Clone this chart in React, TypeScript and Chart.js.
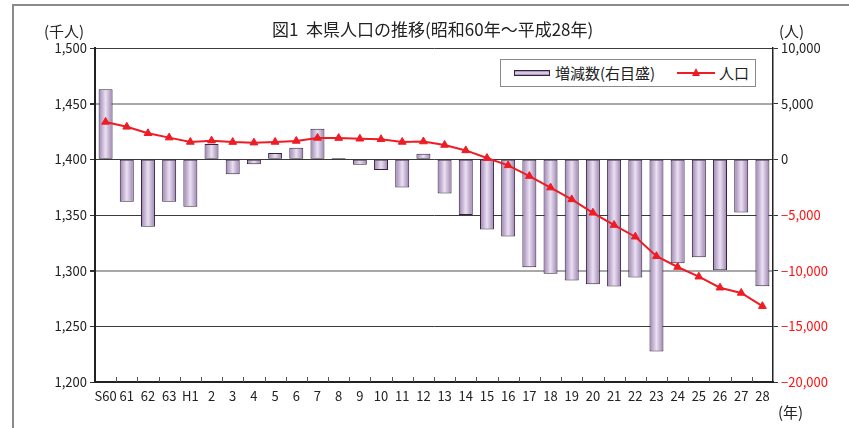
import React, { useEffect, useRef } from "react";
import { Chart, registerables } from "chart.js";

Chart.register(...registerables);

const categories = ["S60", "61", "62", "63", "H1", "2", "3", "4", "5", "6", "7", "8", "9", "10", "11", "12", "13", "14", "15", "16", "17", "18", "19", "20", "21", "22", "23", "24", "25", "26", "27", "28"];

// 増減数 (人, right axis)
const changeValues = [6300, -3800, -6050, -3820, -4270, 1370, -1340, -450, 560, 1050, 2750, 120, -480, -960, -2540, 510, -3070, -4990, -6300, -6920, -9700, -10270, -10890, -11220, -11430, -10620, -17250, -9340, -8800, -9970, -4780, -11400];

// 人口 (千人, left axis)
const populationValues = [1433.6, 1429.2, 1423.4, 1419.5, 1415.6, 1416.8, 1415.5, 1415.0, 1415.6, 1416.5, 1419.2, 1419.1, 1418.5, 1418.0, 1415.6, 1416.0, 1412.9, 1408.0, 1401.2, 1394.6, 1385.0, 1374.6, 1364.0, 1352.0, 1341.0, 1330.5, 1313.0, 1303.3, 1294.6, 1284.7, 1280.0, 1268.1];

const titleText = "図1  本県人口の推移(昭和60年～平成28年)";
const leftUnit = "(千人)";
const rightUnit = "(人)";
const xUnit = "(年)";
const legendBar = "増減数(右目盛)";
const legendLine = "人口";

const FONT = "'Noto Sans CJK JP', 'Noto Sans', sans-serif";
const RED = "#ee1c24";
const BAR_EDGE = "#9c80b2";
const BAR_MID = "#eae1f1";

export default function App() {
  const ref = useRef<HTMLCanvasElement | null>(null);

  useEffect(() => {
    const canvas = ref.current;
    if (!canvas) return;

    const innerTicks = {
      id: "innerTicks",
      afterDatasetsDraw(chart: any) {
        const { ctx, chartArea } = chart;
        const xs = chart.scales.x;
        const n = categories.length;
        const w = (chartArea.right - chartArea.left) / n;
        ctx.save();
        ctx.strokeStyle = "#555";
        ctx.lineWidth = 1;
        ctx.beginPath();
        for (let i = 1; i < n; i++) {
          const x = Math.round(xs.getPixelForValue(i) - w / 2) + 0.5;
          ctx.moveTo(x, chartArea.bottom);
          ctx.lineTo(x, chartArea.bottom - 5);
        }
        ctx.stroke();
        ctx.restore();
      },
    };

    const chart = new Chart(canvas, {
      type: "bar",
      data: {
        labels: categories,
        datasets: [
          {
            type: "line",
            label: legendLine,
            data: populationValues,
            yAxisID: "y",
            borderColor: RED,
            backgroundColor: RED,
            borderWidth: 2,
            pointStyle: "triangle",
            pointRadius: 4.5,
            pointBackgroundColor: RED,
            pointBorderColor: RED,
            pointBorderWidth: 1,
            tension: 0,
            order: 0,
          } as any,
          {
            type: "bar",
            label: legendBar,
            data: changeValues,
            yAxisID: "y1",
            backgroundColor: (c: any) => {
              const chart = c.chart;
              const { ctx, chartArea } = chart;
              if (!chartArea || c.dataIndex === undefined) return "#c9b5d8";
              const x = chart.scales.x.getPixelForValue(c.dataIndex);
              const g = ctx.createLinearGradient(x - 7, 0, x + 7, 0);
              g.addColorStop(0, BAR_EDGE);
              g.addColorStop(0.5, BAR_MID);
              g.addColorStop(1, BAR_EDGE);
              return g;
            },
            borderColor: "#33243c",
            borderWidth: 1,
            borderSkipped: false,
            barPercentage: 0.66,
            categoryPercentage: 1,
            order: 1,
          } as any,
        ],
      },
      options: {
        animation: false,
        responsive: false,
        maintainAspectRatio: false,
        layout: { padding: { top: 48, left: 0, right: 0, bottom: 0 } },
        plugins: {
          legend: { display: false },
          title: { display: false },
          tooltip: { enabled: false },
        },
        scales: {
          x: {
            offset: true,
            grid: { display: true, drawOnChartArea: false, drawTicks: false },
            border: { display: true, color: "#222", width: 2 },
            ticks: {
              autoSkip: false,
              maxRotation: 0,
              minRotation: 0,
              padding: 6,
              color: "#222",
              font: { family: FONT, size: 13 },
            },
            afterFit: (s: any) => {
              s.height = 46;
            },
          },
          y: {
            position: "left",
            min: 1200,
            max: 1500,
            ticks: {
              stepSize: 50,
              padding: 3,
              color: "#222",
              font: { family: FONT, size: 13 },
              callback: (v: any) => Number(v).toLocaleString("en-US"),
            },
            grid: {
              color: (c: any) => (c.tick && (c.tick.value === 1450 || c.tick.value === 1300) ? "#a8a8a8" : "#3a3a3a"),
              lineWidth: (c: any) => (c.tick && (c.tick.value === 1450 || c.tick.value === 1300) ? 2 : 1),
              tickColor: "#333",
              tickLength: 5,
            },
            border: { display: true, color: "#222", width: 2 },
            afterFit: (s: any) => {
              s.width = 95;
            },
          },
          y1: {
            position: "right",
            min: -20000,
            max: 10000,
            ticks: {
              stepSize: 5000,
              padding: 3,
              color: (c: any) => (c.tick && c.tick.value < 0 ? "#ff1010" : "#222"),
              font: { family: FONT, size: 13 },
              callback: (v: any) => {
                const n = Number(v);
                return n < 0 ? "−" + Math.abs(n).toLocaleString("en-US") : n.toLocaleString("en-US");
              },
            },
            grid: {
              drawOnChartArea: false,
              tickColor: "#333",
              tickLength: 5,
            },
            border: { display: true, color: "#222", width: 1.5 },
            afterFit: (s: any) => {
              s.width = 76;
            },
          },
        },
      },
      plugins: [innerTicks],
    });

    return () => chart.destroy();
  }, []);

  const txt: React.CSSProperties = {
    position: "absolute",
    fontFamily: FONT,
    color: "#222",
    whiteSpace: "pre",
    lineHeight: 1,
  };

  return (
    <div style={{ position: "absolute", left: 0, top: 0, width: 849, height: 428, background: "#fff", overflow: "hidden" }}>
      <canvas ref={ref} width={849} height={428} style={{ position: "absolute", left: 0, top: 0, width: 849, height: 428 }} />
      <div style={{ position: "absolute", left: 13, top: 4, width: 840, height: 2, background: "#8a8a8a" }} />
      <div style={{ position: "absolute", left: 12, top: 4, width: 2, height: 430, background: "#8a8a8a" }} />
      <div style={{ ...txt, left: 272, top: 20, fontSize: 17 }}>{titleText}</div>
      <div style={{ ...txt, left: 44, top: 23, fontSize: 15 }}>{leftUnit}</div>
      <div style={{ ...txt, left: 779, top: 23, fontSize: 15 }}>{rightUnit}</div>
      <div style={{ ...txt, left: 778, top: 404, fontSize: 15 }}>{xUnit}</div>
      <div
        style={{
          position: "absolute",
          left: 500,
          top: 59,
          width: 256,
          height: 28,
          border: "1px solid #8a8a8a",
          background: "#fff",
          boxSizing: "border-box",
        }}
      >
        <div
          style={{
            position: "absolute",
            left: 13,
            top: 10,
            width: 36,
            height: 6,
            border: "1px solid #33243c",
            boxSizing: "border-box",
            background: `linear-gradient(to bottom, ${BAR_EDGE}, ${BAR_MID}, ${BAR_EDGE})`,
          }}
        />
        <div style={{ ...txt, left: 54, top: 5, fontSize: 15 }}>{legendBar}</div>
        <div style={{ position: "absolute", left: 176, top: 12, width: 38, height: 2, background: RED }} />
        <div
          style={{
            position: "absolute",
            left: 191,
            top: 8,
            width: 0,
            height: 0,
            borderLeft: "4.5px solid transparent",
            borderRight: "4.5px solid transparent",
            borderBottom: "8px solid " + RED,
          }}
        />
        <div style={{ ...txt, left: 218, top: 5, fontSize: 15 }}>{legendLine}</div>
      </div>
    </div>
  );
}
